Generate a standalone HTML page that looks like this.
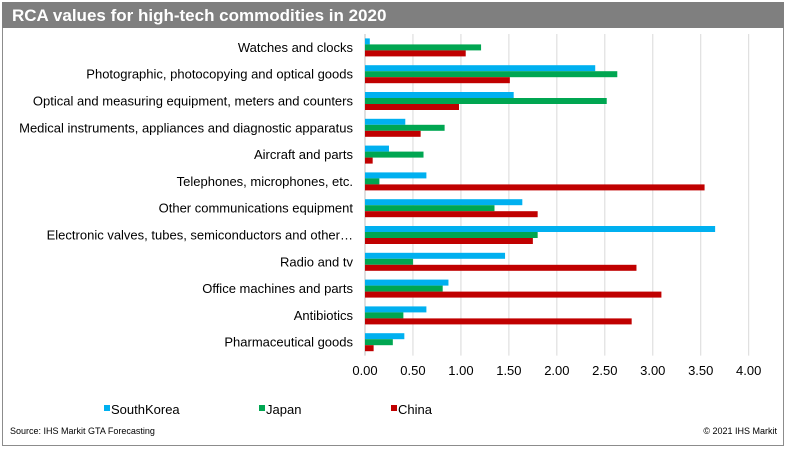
<!DOCTYPE html>
<html><head><meta charset="utf-8"><style>
body{margin:0;background:#fff;}
svg{display:block;font-family:"Liberation Sans",Arial,sans-serif;}
</style></head><body>
<svg id="chart" width="786" height="449" viewBox="0 0 786 449">
<rect x="2.5" y="2.5" width="781" height="443" fill="#fff" stroke="#8c8c8c" stroke-width="1"/>
<rect x="2" y="2" width="782" height="26" fill="#7f7f7f"/>
<text x="12" y="21" fill="#fff" font-size="17" font-weight="bold">RCA values for high-tech commodities in 2020</text>
<g id="grid"></g>
<g id="bars"></g>
<g id="labels"></g>
<g id="ticks"></g>
<g>
<rect x="104" y="405" width="6" height="6" fill="#00b0f0"/>
<text x="111" y="414" font-size="13" fill="#000">SouthKorea</text>
<rect x="259" y="405" width="6" height="6" fill="#00a651"/>
<text x="266" y="414" font-size="13" fill="#000">Japan</text>
<rect x="391" y="405" width="6" height="6" fill="#c00000"/>
<text x="398" y="414" font-size="13" fill="#000">China</text>
</g>
<text x="10" y="434" font-size="9" fill="#000">Source: IHS Markit GTA Forecasting</text>
<text x="777" y="434" font-size="9" fill="#000" text-anchor="end">© 2021 IHS Markit</text>
</svg>
<script>
const categories=["Watches and clocks","Photographic, photocopying and optical goods","Optical and measuring equipment, meters and counters","Medical instruments, appliances and diagnostic apparatus","Aircraft and parts","Telephones, microphones, etc.","Other communications equipment","Electronic valves, tubes, semiconductors and other…","Radio and tv","Office machines and parts","Antibiotics","Pharmaceutical goods"];
const southKorea=[0.05,2.40,1.55,0.42,0.25,0.64,1.64,3.65,1.46,0.87,0.64,0.41];
const japan=[1.21,2.63,2.52,0.83,0.61,0.15,1.35,1.80,0.50,0.81,0.40,0.29];
const china=[1.05,1.51,0.98,0.58,0.08,3.54,1.80,1.75,2.83,3.09,2.78,0.09];
const tickValues=[0,0.5,1,1.5,2,2.5,3,3.5,4];
const tickLabels=["0.00","0.50","1.00","1.50","2.00","2.50","3.00","3.50","4.00"];
const seriesNames=["southkorea","japan","china"];
const colors=["#00b0f0","#00a651","#c00000"];
const NS="http://www.w3.org/2000/svg";
const x0=365,x1=748.7,xMax=4,yTop=34,band=26.8,barH=6;
function xs(v){return x0+(v/xMax)*(x1-x0);}
function yb(i){return yTop+i*band;}
function mk(t,a,p){const e=document.createElementNS(NS,t);for(const k in a)e.setAttribute(k,a[k]);p.appendChild(e);return e;}
const grid=document.getElementById('grid'),bars=document.getElementById('bars'),labels=document.getElementById('labels'),ticks=document.getElementById('ticks');
tickValues.forEach((v,i)=>{
 const l=mk('line',{x1:xs(v),x2:xs(v),y1:yTop,y2:yb(categories.length),stroke:i===0?'#bfbfbf':'#d9d9d9','stroke-width':1},grid);
 
 
 const t=mk('text',{x:xs(v),y:375,'font-size':13,'text-anchor':'middle',fill:'#000'},ticks);
 t.textContent=tickLabels[i];
 
 
});
const series=[southKorea,japan,china];
categories.forEach((c,i)=>{
 const off=yb(i)+(band-3*barH)/2;
 series.forEach((s,j)=>{
  const r=mk('rect',{x:x0,y:off+j*barH,width:Math.max(0,xs(s[i])-x0),height:barH,fill:colors[j]},bars);
  
  
 });
 const t=mk('text',{x:353,y:yb(i)+band/2+4.5,'font-size':13,'text-anchor':'end',fill:'#000'},labels);
 t.textContent=c;
 
 
});
</script>
</body></html>
